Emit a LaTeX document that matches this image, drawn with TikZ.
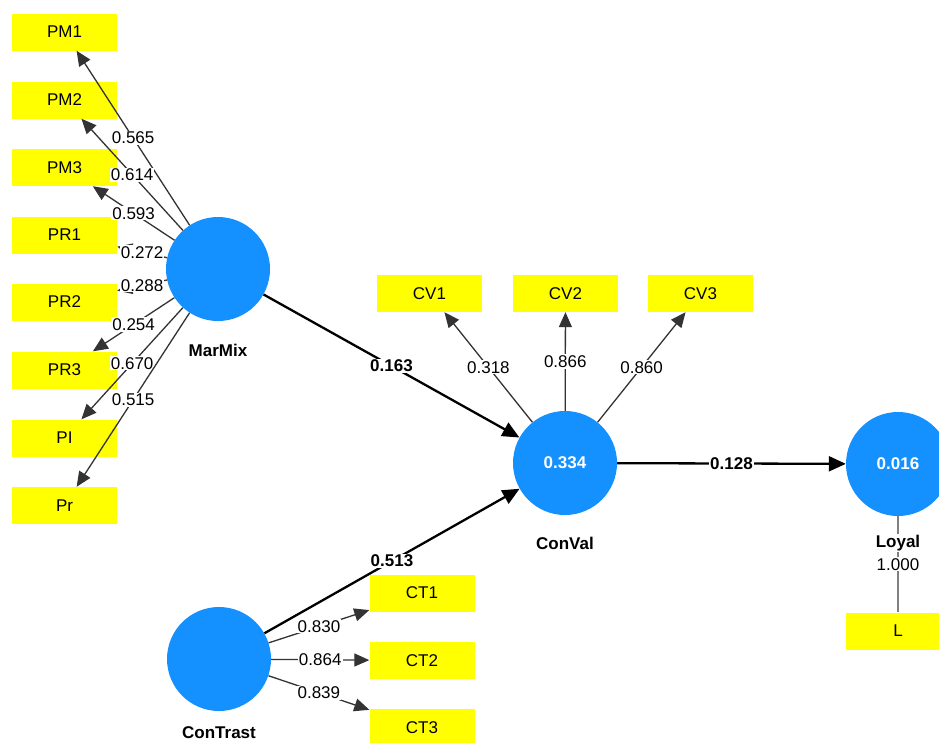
\documentclass[tikz,border=0pt]{standalone}
\usepackage{fontspec}
\setmainfont{Liberation Sans}
\usetikzlibrary{arrows.meta}
\definecolor{lvblue}{RGB}{20,144,255}
\definecolor{indyellow}{RGB}{255,255,0}
\newcommand\lblfont{\fontsize{17}{20}\selectfont}
\begin{document}
\begin{tikzpicture}[x=1pt,y=-1pt,
  ind/.style={fill=indyellow, minimum width=105pt, minimum height=37pt, inner sep=0pt, font=\lblfont},
  lv/.style={circle, fill=lvblue, minimum size=104pt, inner sep=0pt, text=white, font=\lblfont\bfseries},
  lvname/.style={fill=white, inner sep=1pt, font=\lblfont\bfseries},
  load/.style={draw=black!80, line width=1.3pt, -{Triangle[length=15pt,width=13pt]}},
  pathc/.style={draw=black, line width=2.3pt, -{Triangle[length=17pt,width=15pt]}},
  lab/.style={fill=white, inner sep=1pt, font=\lblfont},
  blab/.style={fill=white, inner sep=1pt, font=\lblfont\bfseries}]
\clip (0,0) rectangle (939,742);
\fill[white] (0,0) rectangle (939,742);
% latent variables
\node[lv] (MM) at (218,269) {};
\node[lv] (CV) at (565,463) {0.334};
\node[lv] (LY) at (898,464) {0.016};
\node[lv] (CT) at (219,659) {};
% indicators
\node[ind] (PM1) at (64.5,32) {PM1};
\node[ind] (PM2) at (64.5,100) {PM2};
\node[ind] (PM3) at (64.5,167.5) {PM3};
\node[ind] (PR1) at (64.5,235) {PR1};
\node[ind] (PR2) at (64.5,302) {PR2};
\node[ind] (PR3) at (64.5,370) {PR3};
\node[ind] (PI) at (64.5,438) {PI};
\node[ind] (Pr) at (64.5,505.5) {Pr};
\node[ind] (CV1) at (429.5,293.5) {CV1};
\node[ind] (CV2) at (565.5,293.5) {CV2};
\node[ind] (CV3) at (700.5,293.5) {CV3};
\node[ind] (CT1) at (422,593) {CT1};
\node[ind] (CT2) at (422,660.5) {CT2};
\node[ind] (CT3) at (422,727.5) {CT3};
\node[ind] (L) at (898,631) {L};
% loadings MarMix
\draw[load] (MM) -- node[lab]{0.565} (PM1);
\draw[load] (MM) -- node[lab]{0.614} (PM2);
\draw[load] (MM) -- node[lab]{0.593} (PM3);
\draw[load] (MM) -- node[lab]{0.272} (PR1);
\draw[load] (MM) -- node[lab]{0.288} (PR2);
\draw[load] (MM) -- node[lab]{0.254} (PR3);
\draw[load] (MM) -- node[lab]{0.670} (PI);
\draw[load] (MM) -- node[lab]{0.515} (Pr);
% loadings ConVal
\draw[load] (CV) -- node[lab]{0.318} (CV1);
\draw[load] (CV) -- node[lab]{0.866} (CV2);
\draw[load] (CV) -- node[lab]{0.860} (CV3);
% loadings ConTrast
\draw[load] (CT) -- node[lab]{0.830} (CT1);
\draw[load] (CT) -- node[lab]{0.864} (CT2);
\draw[load] (CT) -- node[lab]{0.839} (CT3);
% Loyal single indicator
\draw[draw=gray, line width=1.6pt] (LY) -- node[lab]{1.000} (L);
% structural paths
\draw[pathc] (MM) -- node[blab]{0.163} (CV);
\draw[pathc] (CT) -- node[blab]{0.513} (CV);
\draw[pathc] (CV) -- node[blab]{0.128} (LY);
% construct names
\node[lvname] (nMM) at (218,350) {MarMix};
\node[lvname] (nCV) at (565,543) {ConVal};
\node[lvname] (nLY) at (898,543) {Loyal};
\node[lvname] (nCT) at (219,733) {ConTrast};
\end{tikzpicture}
\end{document}
